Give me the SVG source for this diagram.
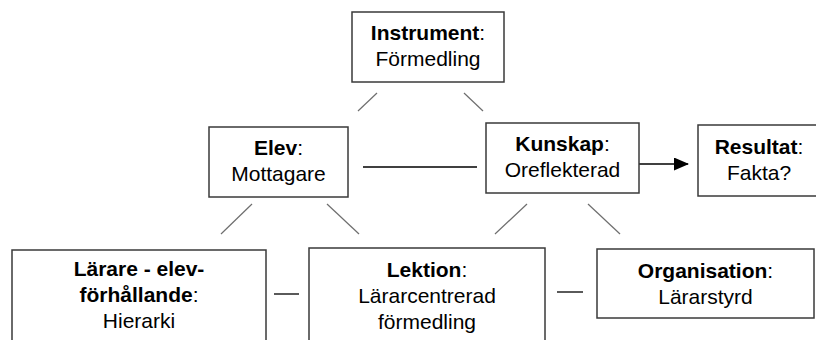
<svg xmlns="http://www.w3.org/2000/svg" width="816" height="340" viewBox="0 0 816 340">
  <style>
    .box { fill: #ffffff; stroke: #3a3a3a; stroke-width: 1.5; }
    .lbl { font-family: "Liberation Sans", Arial, sans-serif; font-size: 21px; fill: #000000; text-anchor: middle; }
    .b { font-weight: bold; }
    .diag { stroke: #6e6e6e; stroke-width: 1.2; fill: none; }
    .link { stroke: #000000; stroke-width: 1.3; fill: none; }
  </style>
  <defs>
    <marker id="arrowhead" markerWidth="15" markerHeight="13" refX="14" refY="6.5" orient="auto" markerUnits="userSpaceOnUse">
      <path d="M0,0 L15,6.5 L0,13 Z" fill="#000000"/>
    </marker>
  </defs>
  <rect x="0" y="0" width="816" height="340" fill="#ffffff"/>

  <g id="connectors">
    <line class="diag" x1="377" y1="93" x2="358" y2="111"/>
    <line class="diag" x1="464" y1="93" x2="483" y2="111"/>
    <line class="diag" x1="252" y1="204" x2="221" y2="234"/>
    <line class="diag" x1="327" y1="204" x2="359" y2="234"/>
    <line class="diag" x1="527" y1="204" x2="495" y2="234"/>
    <line class="diag" x1="588" y1="204" x2="620" y2="234"/>
    <line class="link" x1="363" y1="167" x2="477" y2="167"/>
    <line class="link" x1="274" y1="294" x2="299" y2="294"/>
    <line class="link" x1="557" y1="292" x2="583" y2="292"/>
    <line class="link" x1="639" y1="164" x2="688" y2="164" marker-end="url(#arrowhead)"/>
  </g>

  <g id="instrument">
    <rect class="box" x="352" y="12" width="152" height="70"/>
    <text class="lbl" x="428" y="40"><tspan class="b">Instrument</tspan>:</text>
    <text class="lbl" x="428" y="66">Förmedling</text>
  </g>

  <g id="elev">
    <rect class="box" x="209" y="127" width="139" height="70"/>
    <text class="lbl" x="278.5" y="155"><tspan class="b">Elev</tspan>:</text>
    <text class="lbl" x="278.5" y="181">Mottagare</text>
  </g>

  <g id="kunskap">
    <rect class="box" x="486" y="123" width="153" height="70"/>
    <text class="lbl" x="562.5" y="151"><tspan class="b">Kunskap</tspan>:</text>
    <text class="lbl" x="562.5" y="177">Oreflekterad</text>
  </g>

  <g id="resultat">
    <rect class="box" x="698" y="125" width="124" height="71"/>
    <text class="lbl" x="759" y="154"><tspan class="b">Resultat</tspan>:</text>
    <text class="lbl" x="759" y="180">Fakta?</text>
  </g>

  <g id="larare-elev">
    <rect class="box" x="12" y="250" width="254" height="100"/>
    <text class="lbl b" x="139" y="276">Lärare - elev-</text>
    <text class="lbl" x="139" y="302"><tspan class="b">förhållande</tspan>:</text>
    <text class="lbl" x="139" y="328">Hierarki</text>
  </g>

  <g id="lektion">
    <rect class="box" x="309" y="248" width="236" height="102"/>
    <text class="lbl" x="427" y="277"><tspan class="b">Lektion</tspan>:</text>
    <text class="lbl" x="427" y="303">Lärarcentrerad</text>
    <text class="lbl" x="427" y="329">förmedling</text>
  </g>

  <g id="organisation">
    <rect class="box" x="597" y="249" width="217" height="69"/>
    <text class="lbl" x="705.5" y="278"><tspan class="b">Organisation</tspan>:</text>
    <text class="lbl" x="705.5" y="304">Lärarstyrd</text>
  </g>
</svg>
